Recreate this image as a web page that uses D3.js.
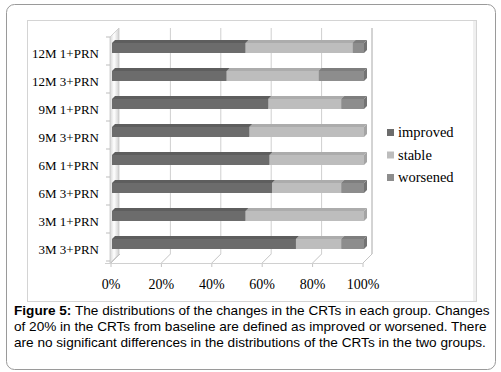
<!DOCTYPE html>
<html>
<head>
<meta charset="utf-8">
<script src="https://cdn.jsdelivr.net/npm/d3@7"></script>
<style>
  html, body { margin: 0; padding: 0; background: #fff; }
  svg { display: block; }
</style>
</head>
<body>
<div id="chart"></div>
<script>
// categories top to bottom, shares in percent
const categories = ["12M 1+PRN", "12M 3+PRN", "9M 1+PRN", "9M 3+PRN", "6M 1+PRN", "6M 3+PRN", "3M 1+PRN", "3M 3+PRN"];
const improved = [53, 45.5, 62, 54.5, 62.5, 63.5, 53, 73];
const stable   = [42.5, 36.5, 29, 45.5, 37.5, 27.5, 47, 18];
const worsened = [4.5, 18, 9, 0, 0, 9, 0, 9];
const seriesNames = ["improved", "stable", "worsened"];
const xTicks = [0, 20, 40, 60, 80, 100];
const captionLines = [
  ["Figure 5:", " The distributions of the changes in the CRTs in each group. Changes"],
  ["", "of 20% in the CRTs from baseline are defined as improved or worsened. There"],
  ["", "are no significant differences in the distributions of the CRTs in the two groups."]
];

const W = 501, H = 372;
const DX = 9, DY = -9;      // back wall offset
const BD = 3;               // bar depth
const colors = {
  improved: { front: "#6c6c6c", top: "#5e5e5e", side: "#565656" },
  stable:   { front: "#bdbdbd", top: "#acacac", side: "#a4a4a4" },
  worsened: { front: "#8d8d8d", top: "#7e7e7e", side: "#737373" }
};

const rows = categories.map((c, i) => ({ cat: c, improved: improved[i], stable: stable[i], worsened: worsened[i] }));
const stack = d3.stack().keys(seriesNames)(rows);

const svg = d3.select("#chart").append("svg").attr("width", W).attr("height", H);

// frames
svg.append("rect").attr("x", 6.5).attr("y", 4.5).attr("width", 489).attr("height", 365)
  .attr("rx", 8).attr("fill", "#fff").attr("stroke", "#9a9a9a");
svg.append("rect").attr("x", 27.5).attr("y", 20.5).attr("width", 449).attr("height", 281)
  .attr("fill", "#fff").attr("stroke", "#d4d4d4");
svg.append("rect").attr("x", 473).attr("y", 21).attr("width", 3).attr("height", 280).attr("fill", "#efefef");

const x = d3.scaleLinear().domain([0, 100]).range([111, 363]);
const y = d3.scaleBand().domain(categories).range([39, 263]);

const g = svg.append("g");

// back wall gridlines + floor
const wallTop = 28, floorY = 263;
xTicks.forEach(t => {
  const xb = x(t) + DX;
  const col = t === 100 ? "#a8a8a8" : "#cfcfcf";
  if (t > 0) {
    g.append("line").attr("x1", xb).attr("x2", xb).attr("y1", wallTop).attr("y2", floorY + DY)
      .attr("stroke", col).attr("stroke-width", 1);
  }
  g.append("line").attr("x1", xb).attr("y1", floorY + DY).attr("x2", x(t)).attr("y2", floorY)
    .attr("stroke", "#c4c4c4");
  g.append("line").attr("x1", x(t)).attr("x2", x(t)).attr("y1", floorY).attr("y2", floorY + 4)
    .attr("stroke", "#c4c4c4");
});
g.append("line").attr("x1", x(0) - 6).attr("x2", x(100)).attr("y1", floorY + 0.5).attr("y2", floorY + 0.5)
  .attr("stroke", "#d0d0d0");

// left side wall
const defs = svg.append("defs");
const grad = defs.append("linearGradient").attr("id", "wall").attr("x1", "0").attr("x2", "1").attr("y1", "0").attr("y2", "0");
grad.append("stop").attr("offset", "0").attr("stop-color", "#d6d6d6");
grad.append("stop").attr("offset", "0.45").attr("stop-color", "#ffffff");
grad.append("stop").attr("offset", "1").attr("stop-color", "#d0d0d0");
const x0 = x(0) - 1;
g.append("path")
  .attr("d", `M${x0},${wallTop - DY} L${x0 + DX},${wallTop} L${x0 + DX},${floorY + DY} L${x0},${floorY} Z`)
  .attr("fill", "url(#wall)").attr("stroke", "#c8c8c8").attr("stroke-width", 0.8);

// category ticks
d3.range(categories.length + 1).forEach(k => {
  const ty = y.range()[0] - 2 + k * y.step();
  g.append("line").attr("x1", x0 - 4).attr("x2", x0).attr("y1", ty).attr("y2", ty).attr("stroke", "#bdbdbd");
});

// bars
const barH = 10;
categories.forEach((c, i) => {
  const cy = y(c) + y.bandwidth() / 2 - 5;
  const top = cy - barH / 2, bot = cy + barH / 2;
  stack.forEach(s => {
    const d = s[i];
    if (d[1] - d[0] <= 0) return;
    const a = x(d[0]) + 1, b = x(d[1]) + 1;
    const col = colors[s.key];
    g.append("path").attr("d", `M${a},${top} L${a + BD},${top - BD} L${b + BD},${top - BD} L${b},${top} Z`).attr("fill", col.top);
    g.append("path").attr("d", `M${b},${top} L${b + BD},${top - BD} L${b + BD},${bot - BD} L${b},${bot} Z`).attr("fill", col.side);
    g.append("rect").attr("x", a).attr("y", top).attr("width", b - a).attr("height", barH).attr("fill", col.front);
  });
});

// category labels
g.selectAll("text.cat").data(categories).join("text")
  .attr("class", "cat")
  .attr("x", 99).attr("y", d => y(d) + y.bandwidth() / 2)
  .attr("dy", "0.35em").attr("text-anchor", "end")
  .attr("font-family", "Liberation Serif, Times New Roman, serif").attr("font-size", 13)
  .attr("fill", "#000").text(d => d);

// x tick labels
g.selectAll("text.tick").data(xTicks).join("text")
  .attr("class", "tick")
  .attr("x", d => x(d)).attr("y", 289).attr("text-anchor", "middle")
  .attr("font-family", "Liberation Serif, Times New Roman, serif").attr("font-size", 14)
  .attr("fill", "#000").text(d => d + "%");

// legend
const lg = svg.append("g").attr("transform", "translate(387,137)");
seriesNames.forEach((n, i) => {
  lg.append("rect").attr("x", 0).attr("y", i * 22.5 - 8).attr("width", 7).attr("height", 7).attr("fill", colors[n].front);
  lg.append("text").attr("x", 11).attr("y", i * 22.5)
    .attr("font-family", "Liberation Serif, Times New Roman, serif").attr("font-size", 14.5)
    .attr("fill", "#000").text(n);
});

// caption
const cap = svg.append("g");
captionLines.forEach((ln, i) => {
  const t = cap.append("text").attr("x", 14).attr("y", 315 + i * 16)
    .attr("font-family", "Liberation Sans, Arial, sans-serif").attr("font-size", 13.6).attr("fill", "#000");
  if (ln[0]) t.append("tspan").attr("font-weight", "bold").text(ln[0]);
  t.append("tspan").text(ln[1]);
});
</script>
</body>
</html>
